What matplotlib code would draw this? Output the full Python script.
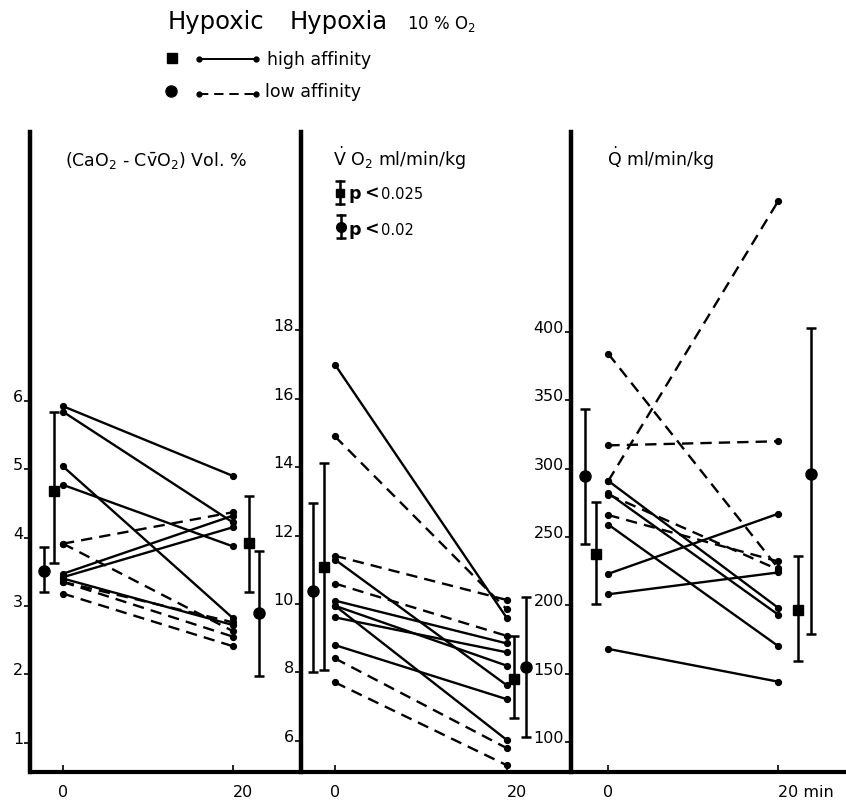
import matplotlib
matplotlib.use('Agg')
import matplotlib.pyplot as plt

plt.rcParams['font.family'] = ['DejaVu Sans']
plt.rcParams['mathtext.fontset'] = 'dejavusans'

times = [0, 20]

# (CaO2 - CvO2) Vol. %   values at 0 and 20 min
avd_high_0 = [5.92, 5.84, 5.04, 4.77, 3.47, 3.42, 3.40]
avd_high_20 = [4.90, 4.22, 2.82, 3.87, 4.32, 4.15, 2.72]
avd_low_0 = [3.91, 3.91, 3.35, 3.18, 3.35]
avd_low_20 = [4.37, 2.63, 2.55, 2.41, 2.76]
avd_high_mean = [4.68, 3.92]
avd_high_lo = [3.63, 3.20]
avd_high_hi = [5.83, 4.61]
avd_low_mean = [3.51, 2.90]
avd_low_lo = [3.20, 1.98]
avd_low_hi = [3.86, 3.81]

# VO2 ml/min/kg
vo2_high_0 = [17.0, 11.3, 10.1, 9.95, 9.95, 9.61, 8.8]
vo2_high_20 = [9.6, 7.63, 8.85, 6.03, 8.2, 8.59, 7.22]
vo2_low_0 = [14.9, 11.41, 10.6, 8.41, 7.71]
vo2_low_20 = [9.85, 10.12, 9.07, 5.79, 5.29]
vo2_high_mean = [11.09, 7.80]
vo2_high_lo = [8.07, 6.68]
vo2_high_hi = [14.13, 9.07]
vo2_low_mean = [10.37, 8.15]
vo2_low_lo = [8.02, 6.10]
vo2_low_hi = [12.95, 10.22]

# Q ml/min/kg
q_high_0 = [291, 282, 259, 223, 208, 168]
q_high_20 = [198, 193, 170, 267, 224, 144]
q_low_0 = [384, 317, 291, 266, 281]
q_low_20 = [227, 320, 496, 232, 226]
q_high_mean = [237.8, 196.8]
q_high_lo = [200.7, 159.3]
q_high_hi = [275.6, 235.9]
q_low_mean = [294.4, 295.9]
q_low_lo = [244.6, 178.8]
q_low_hi = [343.9, 402.7]

W, H = 846, 804
fig = plt.figure(figsize=(W / 100, H / 100), dpi=100)

def px_rect(x0, x1, y_top, y_bot):
    return [x0 / W, 1 - y_bot / H, (x1 - x0) / W, (y_bot - y_top) / H]

dash = (0, (4.8, 3))

def draw_panel(ax, h0, h20, l0, l20, hm, hlo, hhi, lm, llo, lhi, xh, xl):
    for a, b in zip(h0, h20):
        ax.plot(times, [a, b], color='k', lw=1.7, marker='o', ms=4.2, solid_capstyle='round')
    for a, b in zip(l0, l20):
        ax.plot(times, [a, b], color='k', lw=1.7, ls=dash, marker='o', ms=4.2)
    ax.errorbar(xh, hm, yerr=[[m - l for m, l in zip(hm, hlo)], [h - m for m, h in zip(hm, hhi)]],
                fmt='s', ms=7, color='k', elinewidth=1.8, capsize=3.6, capthick=1.8)
    ax.errorbar(xl, lm, yerr=[[m - l for m, l in zip(lm, llo)], [h - m for m, h in zip(lm, lhi)]],
                fmt='o', ms=8, color='k', elinewidth=1.8, capsize=3.6, capthick=1.8)

def style_axes(ax, xlim, ylim, yticks, xlabels):
    ax.set_xlim(*xlim)
    ax.set_ylim(*ylim)
    ax.spines['top'].set_visible(False)
    ax.spines['right'].set_visible(False)
    ax.spines['left'].set_linewidth(3.2)
    ax.spines['bottom'].set_linewidth(3.0)
    ax.spines['bottom'].set_capstyle('butt')
    ax.set_yticks(yticks)
    ax.set_yticklabels([str(t) for t in yticks])
    ax.tick_params(axis='y', direction='out', length=4, width=1.2, pad=1, labelsize=11.5)
    for lab in ax.get_yticklabels():
        lab.set_va('baseline')
    ax.set_xticks(times)
    ax.set_xticklabels(xlabels)
    ax.tick_params(axis='x', direction='in', length=5, width=1.2, pad=9, labelsize=11.5)
    ax.get_xticklabels()[1].set_ha('left')
    ax.patch.set_alpha(0)

ax1 = fig.add_axes(px_rect(30, 301, 133, 773))
draw_panel(ax1, avd_high_0, avd_high_20, avd_low_0, avd_low_20,
           avd_high_mean, avd_high_lo, avd_high_hi, avd_low_mean, avd_low_lo, avd_low_hi,
           [-1.06, 21.9], [-2.2, 23.1])
style_axes(ax1, (-3.88, 28.0), (0.571, 9.93), [1, 2, 3, 4, 5, 6], ['0', '20'])

ax2 = fig.add_axes(px_rect(301, 571, 133, 773))
draw_panel(ax2, vo2_high_0, vo2_high_20, vo2_low_0, vo2_low_20,
           vo2_high_mean, vo2_high_lo, vo2_high_hi, vo2_low_mean, vo2_low_lo, vo2_low_hi,
           [-1.24, 20.9], [-2.6, 22.3])
style_axes(ax2, (-3.96, 27.5), (5.09, 23.8), [6, 8, 10, 12, 14, 16, 18], ['0', '20'])

ax3 = fig.add_axes(px_rect(571, 846, 133, 773))
draw_panel(ax3, q_high_0, q_high_20, q_low_0, q_low_20,
           q_high_mean, q_high_lo, q_high_hi, q_low_mean, q_low_lo, q_low_hi,
           [-1.4, 22.3], [-2.75, 23.9])
style_axes(ax3, (-4.39, 27.96), (77.9, 546.4), [100, 150, 200, 250, 300, 350, 400], ['0', '20 min'])

# overlay in pixel coordinates for titles and legends
ov = fig.add_axes([0, 0, 1, 1])
ov.set_xlim(0, W)
ov.set_ylim(H, 0)
ov.axis('off')

ov.text(168, 29, 'Hypoxic', fontsize=17.5, va='baseline')
ov.text(290, 29, 'Hypoxia', fontsize=17.5, va='baseline')
ov.text(407, 29, '10 % O$_2$', fontsize=12, va='baseline')

ov.plot([172], [59], marker='s', ms=7, color='k')
ov.plot([199, 256], [60, 60], color='k', lw=1.4, marker='o', ms=3.5)
ov.text(267, 65, 'high affinity', fontsize=12.5, va='baseline')
ov.plot([171], [92], marker='o', ms=8, color='k')
ov.plot([199, 256], [95, 95], color='k', lw=1.4, ls=dash, marker='o', ms=3.5)
ov.text(265, 97, 'low affinity', fontsize=12.5, va='baseline')

ov.text(65, 166, r'(CaO$_2$ - C$\bar{\mathrm{v}}$O$_2$) Vol. %', fontsize=12.5, va='baseline')
ov.text(333, 166, r'$\dot{\mathrm{V}}$ O$_2$ ml/min/kg', fontsize=12.5, va='baseline')
ov.text(607, 166, r'$\dot{\mathrm{Q}}$ ml/min/kg', fontsize=12.5, va='baseline')

# p-value symbols
for xc, yt, yb, mk, ms in [(340, 182, 205, 's', 6), (341, 216, 239, 'o', 7)]:
    ov.plot([xc, xc], [yt, yb], color='k', lw=1.8)
    ov.plot([xc, xc], [yt, yb], ls='none', marker='_', ms=7, mew=1.8, color='k')
    ov.plot([xc], [(yt + yb) / 2], marker=mk, ms=ms, color='k')
for yb, pv in [(199, '0.025'), (235, '0.02')]:
    ov.text(348, yb, 'p', fontsize=12.5, fontweight='bold', va='baseline')
    ov.text(364, yb, '<', fontsize=12.5, fontweight='bold', va='baseline')
    ov.text(381, yb, pv, fontsize=10.5, va='baseline')

fig.savefig('out.png', dpi=100)
